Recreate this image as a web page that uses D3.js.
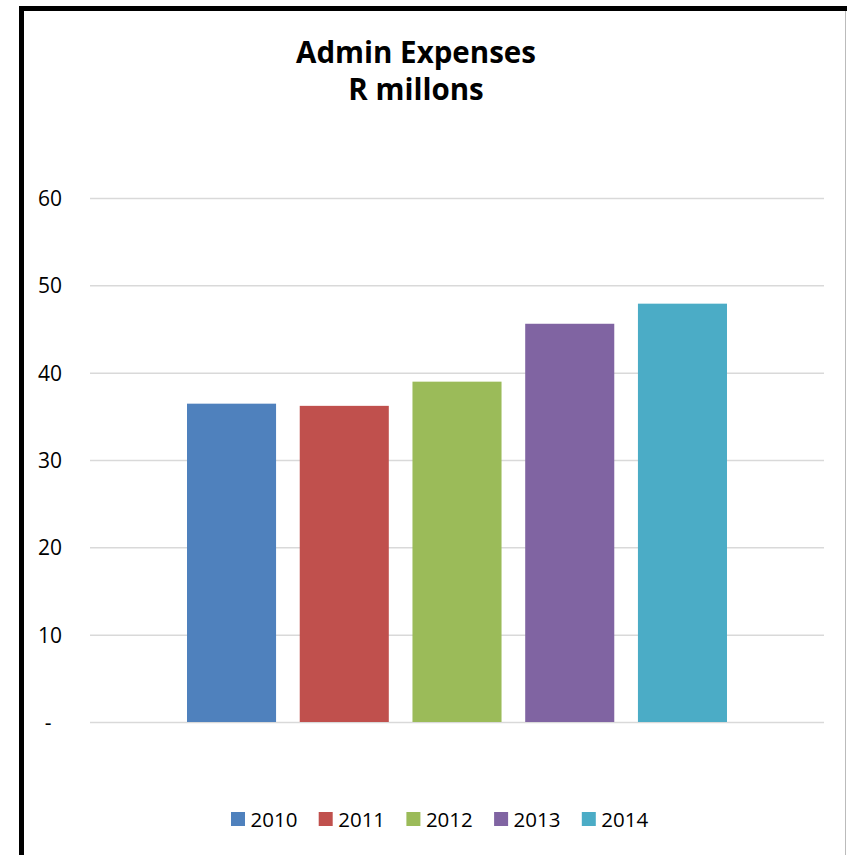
<!DOCTYPE html>
<html>
<head>
<meta charset="utf-8">
<script src="https://cdn.jsdelivr.net/npm/d3@7/dist/d3.min.js"></script>
<style>
  html, body { margin: 0; padding: 0; background: #fff; }
  svg { display: block; }
  text { font-family: "Open Sans", Lato, sans-serif; fill: #000; }
</style>
</head>
<body>
<svg id="chart" width="847" height="855"></svg>
<script>
// Admin expenses per year, R millions
const years = ["2010", "2011", "2012", "2013", "2014"];
const expenses = [36.45, 36.2, 38.97, 45.6, 47.9];
const colors = ["#4F81BD", "#C0504D", "#9BBB59", "#8064A2", "#4BACC6"];
const yTicks = [0, 10, 20, 30, 40, 50, 60];
const titleLines = ["Admin Expenses", "R millons"];

const svg = d3.select("#chart");
const W = 847, H = 855;

svg.append("rect").attr("width", W).attr("height", H).attr("fill", "#fff");

// plot area
const plot = { left: 90, right: 824, top: 198, bottom: 722 };

const y = d3.scaleLinear().domain([0, 60]).range([plot.bottom, plot.top]);

// single category, the five years drawn as a cluster centred in the plot
const clusterW = 540;
const cx = (plot.left + plot.right) / 2;
const x = d3.scaleBand()
  .domain(years)
  .range([cx - clusterW / 2, cx + clusterW / 2])
  .paddingInner(0.21)
  .paddingOuter(0);

// gridlines
const yAxis = d3.axisLeft(y)
  .tickValues(yTicks)
  .tickSize(-(plot.right - plot.left))
  .tickPadding(28)
  .tickFormat(d => d === 0 ? "-" : d3.format("d")(d));

const gAxis = svg.append("g")
  .attr("transform", `translate(${plot.left},0)`)
  .call(yAxis);
gAxis.select(".domain").remove();
gAxis.selectAll(".tick line")
  .attr("stroke", "#d9d9d9")
  .attr("stroke-width", 1.5);
gAxis.selectAll(".tick text")
  .attr("font-size", 21)
  .attr("font-family", "'Open Sans', Lato, sans-serif")
  .attr("fill", "#000")
  .attr("dy", "0.36em");
gAxis.selectAll(".tick text")
  .filter(d => d === 0)
  .attr("text-anchor", "middle")
  .attr("x", -42);

// bars
svg.append("g")
  .selectAll("rect")
  .data(years.map((yr, i) => ({ yr, v: expenses[i], c: colors[i] })))
  .join("rect")
  .attr("x", d => x(d.yr))
  .attr("width", x.bandwidth())
  .attr("y", d => y(d.v))
  .attr("height", d => y(0) - y(d.v))
  .attr("fill", d => d.c);

// title
svg.append("text")
  .attr("x", 416)
  .attr("text-anchor", "middle")
  .attr("font-weight", "bold")
  .attr("font-size", 29.5)
  .selectAll("tspan")
  .data(titleLines)
  .join("tspan")
  .attr("x", 416)
  .attr("y", (d, i) => 63 + i * 37)
  .text(d => d);

// legend
const legendStep = 87.7;
const legendX0 = 231;
const lg = svg.append("g")
  .selectAll("g")
  .data(years)
  .join("g")
  .attr("transform", (d, i) => `translate(${legendX0 + i * legendStep},812)`);
lg.append("rect")
  .attr("width", 14)
  .attr("height", 14)
  .attr("fill", (d, i) => colors[i]);
lg.append("text")
  .attr("x", 19.5)
  .attr("y", 14.5)
  .attr("font-size", 20.5)
  .text(d => d);

// frame
svg.append("rect").attr("x", 19).attr("y", 6).attr("width", W - 19).attr("height", 5).attr("fill", "#000");
svg.append("rect").attr("x", 19).attr("y", 6).attr("width", 5).attr("height", H - 6).attr("fill", "#000");
svg.append("line")
  .attr("x1", 845.5).attr("x2", 845.5)
  .attr("y1", 11).attr("y2", H)
  .attr("stroke", "#bbb").attr("stroke-width", 1);
</script>
</body>
</html>
